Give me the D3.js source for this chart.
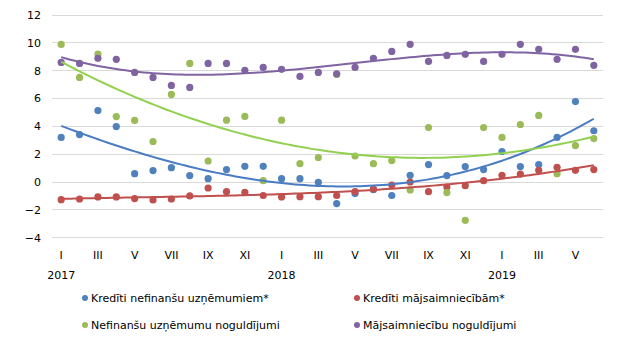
<!DOCTYPE html>
<html><head><meta charset="utf-8">
<script src="https://cdn.jsdelivr.net/npm/d3@7"></script>
<style>body{margin:0;background:#fff}svg{display:block}text{font-family:"DejaVu Sans",Verdana,sans-serif;fill:#000}</style>
</head><body><svg id="c" width="620" height="339"></svg>
<script>
const months = ["I","II","III","IV","V","VI","VII","VIII","IX","X","XI","XII",
  "I","II","III","IV","V","VI","VII","VIII","IX","X","XI","XII",
  "I","II","III","IV","V","VI"];
const years = ["2017","2018","2019"];
const yTicks = [-4,-2,0,2,4,6,8,10,12];
const seriesNames = ["Kredīti nefinanšu uzņēmumiem*","Kredīti mājsaimniecībām*","Nefinanšu uzņēmumu noguldījumi","Mājsaimniecību noguldījumi"];
const loansCorp = [3.17,3.38,5.1,3.95,0.57,0.79,1.0,0.43,0.21,0.86,1.1,1.1,0.21,0.21,-0.05,-1.58,-0.86,-0.58,-1.0,0.45,1.22,0.43,1.08,0.86,2.16,1.08,1.22,3.17,5.75,3.65];
const loansHouse = [-1.3,-1.25,-1.1,-1.1,-1.22,-1.32,-1.25,-1.03,-0.46,-0.72,-0.77,-1.0,-1.1,-1.08,-1.08,-1.0,-0.72,-0.53,-0.25,-0.03,-0.72,-0.39,-0.29,0.07,0.45,0.53,0.81,1.03,0.81,0.86];
const depCorp = [9.85,7.48,9.16,4.67,4.39,2.88,6.26,8.49,1.48,4.41,4.68,0.07,4.41,1.29,1.73,7.7,1.84,1.29,1.51,-0.6,3.88,-0.79,-2.78,3.88,3.17,4.1,4.75,0.57,2.59,3.09];
const depHouse = [8.56,8.49,8.85,8.78,7.84,7.48,6.91,6.76,8.49,8.49,7.99,8.2,8.06,7.55,7.84,7.74,8.2,8.85,9.35,9.86,8.63,9.06,9.14,8.63,9.14,9.86,9.5,8.78,9.5,8.35];

const dotColors = ["#4f81bd","#c0504d","#9bbb59","#8064a2"];
const lineColors = ["#4a7cc4","#c0504d","#92d050","#8064a2"];
const degrees = [3,3,2,3];
const data = [loansCorp, loansHouse, depCorp, depHouse];

const svg = d3.select("#c");
const x = d3.scaleBand().domain(d3.range(months.length)).range([52,603]);
const xc = i => x(i) + x.bandwidth()/2;
const y = d3.scaleLinear().domain([-4,12]).range([237.3,14.5]);

// grid
svg.append("g").selectAll("line").data(yTicks).join("line")
  .attr("x1",52).attr("x2",603).attr("y1",d=>Math.round(y(d))+0.5).attr("y2",d=>Math.round(y(d))+0.5)
  .attr("stroke","#d9d9d9").attr("stroke-width",1);

// y axis
const ya = d3.axisLeft(y).tickValues(yTicks).tickSize(0).tickPadding(0);
const gy = svg.append("g").attr("transform","translate(41,0)").call(ya);
gy.select(".domain").remove();
gy.selectAll("text").style("font-size","11px").attr("dy","0.35em");

// x axis
const xa = d3.axisBottom(x).tickValues(d3.range(0,months.length,2)).tickFormat(i=>months[i]).tickSize(0).tickPadding(0);
const gx = svg.append("g").attr("transform","translate(0,251)").call(xa);
gx.select(".domain").remove();
gx.selectAll("text").style("font-size","11px").attr("dy","0.71em");
svg.append("g").selectAll("text").data(years).join("text")
  .attr("x",(d,k)=>xc(k*12)).attr("y",279).attr("text-anchor","middle").style("font-size","11px").text(d=>d);

// polynomial fit (least squares trendline)
function polyfit(vals, deg){
  const n = vals.length, m = deg+1;
  const t = vals.map((v,i)=> i/(n-1));
  const A = Array.from({length:m},()=>new Array(m+1).fill(0));
  for(let r=0;r<m;r++){
    for(let c=0;c<m;c++){ A[r][c]=d3.sum(t,ti=>Math.pow(ti,r+c)); }
    A[r][m]=d3.sum(t,(ti,i)=>Math.pow(ti,r)*vals[i]);
  }
  for(let p=0;p<m;p++){
    let best=p; for(let r=p+1;r<m;r++) if(Math.abs(A[r][p])>Math.abs(A[best][p])) best=r;
    [A[p],A[best]]=[A[best],A[p]];
    for(let r=0;r<m;r++){ if(r===p) continue; const f=A[r][p]/A[p][p]; for(let c=p;c<=m;c++) A[r][c]-=f*A[p][c]; }
  }
  const coef = A.map((row,p)=>row[m]/row[p]);
  return i => { const ti=i/(n-1); return coef.reduce((s,c,k)=>s+c*Math.pow(ti,k),0); };
}

const pts = d3.range(0, months.length-1+0.001, 0.25);
// dots
data.forEach((vals,s)=>{
  svg.append("g").selectAll("circle").data(vals).join("circle")
    .attr("cx",(d,i)=>xc(i)).attr("cy",d=>y(d)).attr("r",3.6).attr("fill",dotColors[s]);
});
// trendlines
data.forEach((vals,s)=>{
  const f = polyfit(vals, degrees[s]);
  const line = d3.line().x(i=>xc(0) + i*x.step()).y(i=>y(f(i)));
  svg.append("path").datum(pts).attr("d",line).attr("fill","none")
    .attr("stroke",lineColors[s]).attr("stroke-width",2);
});

// legend
const leg = [[85,298],[357,298],[85,325],[357,325]];
seriesNames.forEach((nm,s)=>{
  const g = svg.append("g").attr("transform",`translate(${leg[s][0]},${leg[s][1]})`);
  g.append("circle").attr("r",3).attr("fill",dotColors[s]);
  g.append("text").attr("x",6).attr("dy","0.35em").style("font-size","11px").text(nm);
});
</script></body></html>
